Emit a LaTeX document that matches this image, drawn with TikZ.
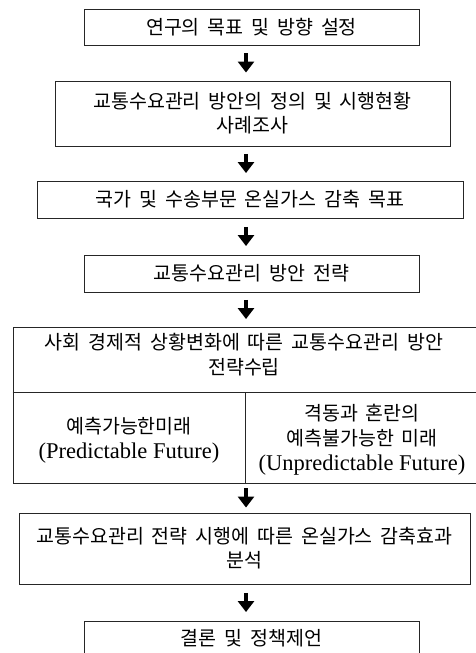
\documentclass[tikz,border=0pt]{standalone}
\usepackage{fontspec}
\setmainfont{Liberation Serif}
\newfontfamily\kr{Noto Sans CJK KR}[WordSpace=1.8]
\usetikzlibrary{arrows.meta}
\begin{document}
\begin{tikzpicture}[x=1pt,y=-1pt,
  box/.style={draw=black!85, line width=0.9pt, inner sep=0pt, align=center,
    font=\kr\fontsize{19.5}{24}\selectfont},
  txt/.style={inner sep=0pt, align=center, font=\kr\fontsize{19.5}{25}\selectfont},
  latin/.style={},
  rule/.style={draw=black!85, line width=0.9pt},
  arr/.style={-{Triangle[width=16pt,length=11pt]}, line width=4pt, black}]
\useasboundingbox (0,0) rectangle (476,653);
\fill[white] (0,0) rectangle (476,653);

\node[box, minimum width=335pt, minimum height=36pt] (b1) at (251.5,27) {연구의 목표 및 방향 설정};
\node[box, minimum width=395pt, minimum height=65pt] (b2) at (252.5,113.5) {교통수요관리 방안의 정의 및 시행현황\\사례조사};
\node[box, minimum width=426pt, minimum height=37pt] (b3) at (250,199.5) {국가 및 수송부문 온실가스 감축 목표};
\node[box, minimum width=335pt, minimum height=37pt] (b4) at (251.5,273.5) {교통수요관리 방안 전략};
\node[box, minimum width=466pt, minimum height=156pt] (b5) at (246,405) {};
\coordinate (mid) at (245.5,392);
\draw[rule] (b5.west |- mid) -- (b5.east |- mid);
\draw[rule] (mid) -- (mid |- b5.south);
\node[txt] (t5) at (244,355) {사회 경제적 상황변화에 따른 교통수요관리 방안\\전략수립};
\node[txt] (l5) at (129,440) {예측가능한미래\\{\rmfamily\fontsize{22.5}{25}\selectfont (Predictable Future)}};
\node[txt] (r5) at (362,440) {격동과 혼란의\\예측불가능한 미래\\{\rmfamily\fontsize{22.5}{25}\selectfont (Unpredictable Future)}};
\node[box, minimum width=451pt, minimum height=71pt] (b6) at (244.5,548.5) {교통수요관리 전략 시행에 따른 온실가스 감축효과\\분석};
\node[box, minimum width=335pt, minimum height=35pt] (b7) at (251.5,638.5) {결론 및 정책제언};

\coordinate (ax) at (246,0);
\draw[arr, shorten <=8pt, shorten >=8pt] (b1.south -| ax) -- (b2.north -| ax);
\draw[arr, shorten <=7.5pt, shorten >=7.5pt] (b2.south -| ax) -- (b3.north -| ax);
\draw[arr, shorten <=8.5pt, shorten >=8.5pt] (b3.south -| ax) -- (b4.north -| ax);
\draw[arr, shorten <=7.5pt, shorten >=7.5pt] (b4.south -| ax) -- (b5.north -| ax);
\draw[arr, shorten <=5pt, shorten >=5pt] (b5.south -| ax) -- (b6.north -| ax);
\draw[arr, shorten <=8.5pt, shorten >=8.5pt] (b6.south -| ax) -- (b7.north -| ax);
\end{tikzpicture}
\end{document}
